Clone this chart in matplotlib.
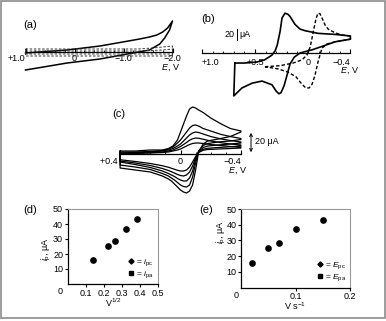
import numpy as np
import matplotlib.pyplot as plt
from matplotlib.lines import Line2D
from matplotlib.patches import Rectangle
from matplotlib.ticker import MultipleLocator

plt.rcParams['font.family'] = ['Liberation Sans', 'DejaVu Sans']
plt.rcParams['mathtext.fontset'] = 'custom'
plt.rcParams['mathtext.rm'] = 'Liberation Sans'
plt.rcParams['mathtext.it'] = 'Liberation Sans:italic'
plt.rcParams['font.size'] = 6.5

# ---- data -------------------------------------------------------------
# (a) E in V, i in uA (arbitrary)
a_fwd_E = [1.0, 0.15, -0.52, -0.87, -1.33, -1.53, -1.68, -1.80, -1.90, -2.0]
a_fwd_i = [-2, 4, 12, 18, 26, 30, 34, 40, 48, 62]
a_rev_E = [-2.0, -1.94, -1.84, -1.74, -1.53, -1.19, -0.52, 0.15, 1.0]
a_rev_i = [62, 44, 28, 16, 4, -2, -14, -22, -36]
a_bg_E = [1.0, -1.3, -1.6, -1.8, -2.0, -2.0, 1.0, 1.0]
a_bg1_i = [6, 6, 8, 10, 12, -8, -8, 6]
a_bg2_i = [2, 2, 3, 4, 6, -4, -4, 2]
a_ticks = [1.0, 0.0, -1.0, -2.0]
a_labels = ['+1.0', '0', '\u22121.0', '\u22122.0']

# (b)
b_sol_fwd_E = [0.69, 0.60, 0.48, 0.41, 0.37, 0.34, 0.31, 0.29, 0.264, 0.245, 0.217,
               0.19, 0.17, 0.123, 0.075, 0.028, -0.094, -0.255, -0.40]
b_sol_fwd_i = [-18, -18, -16, -12, -7, -3, 5, 16, 41, 67, 76, 74, 70, 55, 46, 43, 38, 36, 33]
b_sol_rev_E = [-0.40, -0.255, -0.17, -0.04, 0.075, 0.13, 0.17, 0.198, 0.226, 0.255,
               0.275, 0.30, 0.34, 0.434, 0.528, 0.623, 0.70, 0.69]
b_sol_rev_i = [27, 22, 16, 7, 1, -7, -20, -41, -61, -74, -76, -71, -59, -52, -56, -65, -80, -18]
b_dash_fwd_E = [0.406, 0.264, 0.14, 0.057, 0.01, -0.02, -0.038, -0.057, -0.075, -0.094,
                -0.113, -0.132, -0.16, -0.19, -0.255, -0.32, -0.40]
b_dash_fwd_i = [-25, -23, -18, -12, -3, 12, 29, 48, 65, 76, 75, 67, 54, 46, 39, 35, 33]
b_dash_rev_E = [-0.40, -0.255, -0.18, -0.132, -0.113, -0.094, -0.066, -0.038, -0.01,
                0.02, 0.057, 0.113, 0.19, 0.283, 0.406]
b_dash_rev_i = [27, 22, 18, 10, -3, -16, -41, -58, -65, -65, -58, -44, -35, -29, -25]
b_ticks = [1.0, 0.5, 0.0, -0.4]
b_labels = ['+1.0', '+0.5', '0', '\u22120.4']

# (c) five scan rates on shared potential grids
c_E_fwd = [0.40, 0.30, 0.20, 0.12, 0.08, 0.05, 0.02, 0.00, -0.02, -0.04, -0.06, -0.08,
           -0.10, -0.12, -0.15, -0.20, -0.27, -0.33, -0.40]
c_E_rev = [-0.40, -0.33, -0.25, -0.18, -0.15, -0.12, -0.10, -0.08, -0.06, -0.04, -0.02,
           0.00, 0.02, 0.04, 0.06, 0.08, 0.12, 0.20, 0.30, 0.40]
c_fwd = [
    [2.4, 2.4, 3.2, 3.2, 4.4, 6.4, 11.2, 17.6, 24, 30.4, 36, 37.6, 36.8, 35.2, 33.2, 28.8, 24, 20.4, 18.4],
    [1.6, 1.6, 2, 2.8, 4, 5.6, 8.8, 11.2, 14.4, 17.6, 20.8, 22.8, 23.2, 22.4, 20.4, 18.4, 15.6, 14, 12.4],
    [0.8, 1.2, 1.6, 2.4, 3.2, 4.4, 6.4, 8, 10.4, 12.8, 15.2, 16.8, 17.6, 17.2, 16, 14, 12, 10.8, 9.6],
    [0.4, 0.8, 1.2, 1.6, 2.4, 3.2, 4.8, 6, 7.6, 9.2, 11, 12.2, 12.8, 12.6, 11.8, 10.4, 9, 8, 7.2],
    [0.0, 0.4, 0.8, 1.2, 1.6, 2.4, 3.2, 4, 5.2, 6.4, 7.6, 8.4, 8.8, 8.8, 8.4, 7.6, 6.8, 6, 5.6],
]
c_rev = [
    [17.6, 14, 12, 10.4, 8, 1.6, -12.8, -24.8, -29.6, -31.2, -30.4, -28.8, -26.4, -24, -21.6, -20, -17.6, -14.4, -12.8, -11.2],
    [11.6, 10.4, 9.6, 8.4, 6.8, 2.4, -7.2, -18.4, -24.8, -26.4, -26, -24.8, -22.8, -20.8, -19.2, -17.6, -15.6, -12.4, -10.4, -8.8],
    [8.8, 8, 7.2, 6.4, 5.2, 2, -4.8, -13.6, -19.2, -21.6, -21.6, -20.8, -19.6, -18, -16.8, -15.6, -13.6, -10.8, -8.4, -6.4],
    [6.4, 5.8, 5.2, 4.6, 3.8, 1.6, -3.2, -9.6, -14.4, -16.8, -17.6, -17.2, -16.4, -15.2, -14.2, -13.2, -11.6, -9.2, -7.2, -5.6],
    [4.8, 4.4, 4, 3.6, 3, 1.2, -2, -6.4, -10.4, -12.8, -13.6, -13.6, -13, -12.2, -11.4, -10.6, -9.4, -7.6, -6, -4.6],
]
c_ticks = [0.4, 0.0, -0.4]
c_labels = ['+0.4 ', '0', '\u22120.4']

# (d), (e) peak currents vs scan rate
sqrt_v = [0.14, 0.22, 0.26, 0.32, 0.385]
v = [0.02, 0.05, 0.07, 0.10, 0.15]
i_p = [15.8, 25.3, 28.4, 37.0, 43.2]

# ---- figure -------------------------------------------------------------
W, H = 386, 321
fig = plt.figure(figsize=(W / 100, H / 100), dpi=100)


def box(x0, y0, x1, y1):
    return [x0 / W, 1 - y1 / H, (x1 - x0) / W, (y1 - y0) / H]


def ftext(x, y, s, **kw):
    fig.text(x / W, 1 - y / H, s, **kw)


def cv_axis(ax, ticks, labels, pad, minor=0.1):
    for s in ['top', 'right', 'left']:
        ax.spines[s].set_visible(False)
    ax.spines['bottom'].set_position(('data', 0))
    ax.spines['bottom'].set_linewidth(0.9)
    ax.set_yticks([])
    ax.set_xticks(ticks)
    ax.set_xticklabels(labels)
    ax.xaxis.set_minor_locator(MultipleLocator(minor))
    ax.tick_params(axis='x', which='major', direction='in', length=3, width=0.8,
                   pad=pad, labelsize=6.5)
    ax.tick_params(axis='x', which='minor', direction='in', length=1.6, width=0.6)
    ax.patch.set_visible(False)


# (a)
ax = fig.add_axes(box(25.5, 15, 172.5, 80))
ax.set_xlim(1.0, -2.0)
ax.set_ylim(-56, 74)
ax.plot(a_fwd_E + a_rev_E, a_fwd_i + a_rev_i, color='black', lw=1.1, clip_on=False)
ax.plot(a_bg_E, a_bg1_i, color='#333333', lw=0.7, ls=(0, (2.5, 1.8)), clip_on=False)
ax.plot(a_bg_E, a_bg2_i, color='#333333', lw=0.7, ls=(0, (2.5, 1.8)), clip_on=False)
cv_axis(ax, a_ticks, a_labels, 1.5, minor=0.2)
ax.get_xticklabels()[0].set_ha('right')
ftext(170.5, 68, '$E$, V', ha='center', va='center')
ftext(30, 25, '(a)', ha='center', va='center', fontsize=8)

# (b)
ax = fig.add_axes(box(202, 8, 350.4, 100))
ax.set_xlim(1.0, -0.4)
ax.set_ylim(-87.7, 85.8)
ax.plot(b_sol_fwd_E + b_sol_rev_E, b_sol_fwd_i + b_sol_rev_i, color='black', lw=1.2,
        clip_on=False)
ax.plot(b_dash_fwd_E + b_dash_rev_E, b_dash_fwd_i + b_dash_rev_i, color='black', lw=1.0,
        ls=(0, (2.5, 1.5)), clip_on=False)
cv_axis(ax, b_ticks, b_labels, 3)
lab = ax.get_xticklabels()
lab[0].set_ha('left')
lab[-1].set_ha('right')
ax.plot([0.67, 0.67], [25.5, 45.5], color='black', lw=0.7)
ax.text(0.69, 36, '20', ha='right', va='center', fontsize=6.5)
ax.text(0.645, 36, '\u03bcA', ha='left', va='center', fontsize=6.5)
ftext(349, 71, '$E$, V', ha='center', va='center')
ftext(208, 19, '(b)', ha='center', va='center', fontsize=8)

# (c)
ax = fig.add_axes(box(120.1, 100, 240.9, 200))
ax.set_xlim(0.4, -0.4)
ax.set_ylim(-36.8, 43.2)
for f, r in zip(c_fwd, c_rev):
    ax.plot(c_E_fwd + c_E_rev + c_E_fwd[:1], f + r + f[:1], color='black', lw=0.9,
            clip_on=False)
cv_axis(ax, c_ticks, c_labels, 2)
lab = ax.get_xticklabels()
lab[0].set_ha('right')
lab[-1].set_ha('right')
ax.annotate('', xy=(-0.467, -0.8), xytext=(-0.467, 19.2),
            arrowprops=dict(arrowstyle='<->', lw=0.7, mutation_scale=5),
            annotation_clip=False)
ax.text(-0.493, 9.6, '20 \u03bcA', ha='left', va='center', fontsize=6.5, clip_on=False)
ftext(237, 170.5, '$E$, V', ha='center', va='center')
ftext(119, 114, '(c)', ha='center', va='center', fontsize=8)


def ip_axis(ax, xmax, xticks):
    ax.set_xlim(0, xmax)
    ax.set_ylim(0, 50)
    ax.set_xticks(xticks)
    ax.set_xticklabels([f'{t:g}' for t in xticks])
    ax.set_yticks([10, 20, 30, 40, 50])
    ax.tick_params(direction='out', length=2, width=0.8, pad=1.5, labelsize=6.5)
    for s in ['top', 'right']:
        ax.spines[s].set_color('#999999')
        ax.spines[s].set_linewidth(0.8)
    for s in ['left', 'bottom']:
        ax.spines[s].set_linewidth(0.9)
    ax.set_ylabel('$i_{\\rm p}$, \u03bcA', fontsize=6.5, va='center')


def ip_legend(ax, l1, l2):
    h = [Line2D([], [], marker='D', ls='none', color='black', ms=2.6),
         Line2D([], [], marker='s', ls='none', color='black', ms=2.6)]
    ax.legend(h, [l1, l2], loc='lower right', bbox_to_anchor=(1.0, 0.0), frameon=False,
              fontsize=6, handlelength=0.6, handletextpad=0.3, labelspacing=0.15,
              borderpad=0.3, borderaxespad=0.2)


# (d)
ax = fig.add_axes(box(68, 209, 158, 284))
ax.plot(sqrt_v, i_p, 'o', color='black', ms=3.8)
ip_axis(ax, 0.5, [0.1, 0.2, 0.3, 0.4, 0.5])
ax.yaxis.set_label_coords(-0.237, 0.467)
ax.set_xlabel('V$^{1/2}$', fontsize=6.5, va='center')
ax.xaxis.set_label_coords(0.5, -0.25)
ip_legend(ax, '= $i_{\\rm pc}$', '= $i_{\\rm pa}$')
ftext(60, 291, '0', ha='center', va='center', fontsize=6.5)
ftext(30, 210, '(d)', ha='center', va='center', fontsize=8)

# (e)
ax = fig.add_axes(box(241.3, 209, 350, 287.5))
ax.plot(v, i_p, 'o', color='black', ms=3.8)
ip_axis(ax, 0.2, [0.1, 0.2])
ax.yaxis.set_label_coords(-0.187, 0.707)
ax.set_xlabel('V s$^{-1}$', fontsize=6.5, va='center')
ax.xaxis.set_label_coords(0.494, -0.235)
ip_legend(ax, '= $E_{\\rm pc}$', '= $E_{\\rm pa}$')
ftext(236, 295, '0', ha='center', va='center', fontsize=6.5)
ftext(206, 210, '(e)', ha='center', va='center', fontsize=8)

fig.add_artist(Rectangle((1 / W, 1 - 317.5 / H), 383.5 / W, 316.5 / H,
                         transform=fig.transFigure, fill=False, ec='#8c8c8c', lw=1.2))

fig.savefig('out.png', dpi=100)
